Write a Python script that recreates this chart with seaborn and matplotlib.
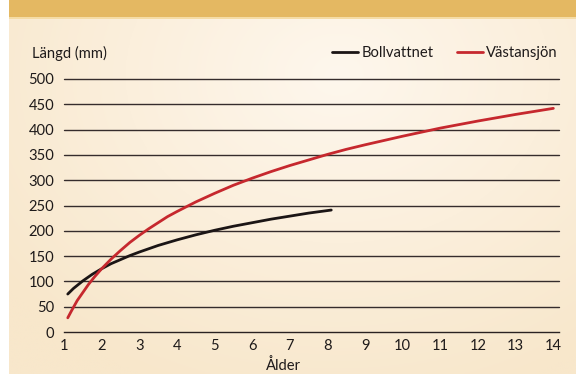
import numpy as np
import pandas as pd
import matplotlib
matplotlib.use("Agg")
import matplotlib.pyplot as plt
from matplotlib.patches import Rectangle
import seaborn as sns

# Growth curves: length (mm) by age for two lakes
age_boll = [1.1, 1.25, 1.5, 1.75, 2.0, 2.25, 2.5, 2.75, 3.0, 3.5, 4.0, 4.5,
            5.0, 5.5, 6.0, 6.5, 7.0, 7.5, 8.0, 8.1]
len_boll = [75, 86, 101, 114, 125, 135, 143, 151, 158, 171, 182, 192,
            201, 209, 216, 223, 229, 235, 240, 241]

age_vast = [1.1, 1.2, 1.35, 1.5, 1.65, 1.8, 2.0, 2.25, 2.5, 2.75, 3.0, 3.25,
            3.5, 3.75, 4.0, 4.5, 5.0, 5.5, 6.0, 6.5, 7.0, 7.5, 8.0, 8.5,
            9.0, 10.0, 11.0, 12.0, 13.0, 14.0]
len_vast = [28, 42, 62, 78, 94, 108, 125, 144, 161, 177, 191, 204,
            216, 228, 238, 257, 274, 290, 304, 317, 329, 340, 351, 361,
            370, 387, 403, 417, 430, 442]

series_names = ["Bollvattnet", "Västansjön"]
x_ticks = list(range(1, 15))
y_ticks = list(range(0, 501, 50))

df = pd.concat([
    pd.DataFrame({"Ålder": age_boll, "Längd": len_boll, "Sjö": series_names[0]}),
    pd.DataFrame({"Ålder": age_vast, "Längd": len_vast, "Sjö": series_names[1]}),
], ignore_index=True)

sns.set_theme(style="white")
plt.rcParams["font.family"] = ["Lato", "DejaVu Sans"]
FS = 10.6
TXT = "#1e1a1a"

W, H = 576, 374
fig = plt.figure(figsize=(W / 100, H / 100), dpi=100)
fig.patch.set_facecolor("white")

# Cream panel with a soft radial glow
bg = fig.add_axes([9 / W, 0, 1 - 9 / W, 1], zorder=-2)
gx, gy = np.meshgrid(np.linspace(0, 1, 300), np.linspace(0, 1, 200))
r = np.sqrt(((gx - 0.58) / 0.75) ** 2 + ((gy - 0.2) / 0.9) ** 2)
r = np.clip(r, 0, 1)
inner = np.array([0xFE, 0xF7, 0xED]) / 255
outer = np.array([0xF8, 0xE7, 0xCB]) / 255
img = inner[None, None, :] * (1 - r[..., None]) + outer[None, None, :] * r[..., None]
bg.imshow(img, aspect="auto", extent=[0, 1, 0, 1], origin="upper")
bg.set_axis_off()

# Header band
fig.patches.append(Rectangle((9 / W, 1 - 17 / H), 1 - 9 / W, 17 / H,
                             transform=fig.transFigure, facecolor="#E4B862",
                             edgecolor="none", zorder=-1))
fig.patches.append(Rectangle((9 / W, 1 - 19 / H), 1 - 9 / W, 2 / H,
                             transform=fig.transFigure, facecolor="#F5DCA6",
                             edgecolor="none", zorder=-1))

ax = fig.add_axes([64 / W, 1 - 332 / H, (559 - 64) / W, (332 - 79) / H])
ax.patch.set_alpha(0)

for yv in y_ticks[1:]:
    ax.axhline(yv, color="#352c2c", lw=1.0, zorder=1, clip_on=False)

sns.lineplot(data=df, x="Ålder", y="Längd", hue="Sjö", ax=ax,
             palette={series_names[0]: "#1b1515", series_names[1]: "#C6282E"},
             linewidth=2.0, zorder=3, sort=True)

ax.set_xlim(1, 14.15)
ax.set_ylim(0, 500)
ax.set_xticks(x_ticks)
ax.set_yticks(y_ticks)
ax.set_xlabel("")
ax.set_ylabel("")
for s in ["top", "right", "left"]:
    ax.spines[s].set_visible(False)
ax.spines["bottom"].set_color("#2a2222")
ax.spines["bottom"].set_linewidth(1.0)
ax.tick_params(axis="x", direction="out", length=3, width=0.9, color="#2a2222",
               labelsize=FS, pad=2, labelcolor=TXT)
ax.tick_params(axis="y", length=0, labelsize=FS, pad=7, labelcolor=TXT)

fig.text(32 / W, 1 - 53 / H, "Längd (mm)", fontsize=FS, color=TXT,
         ha="left", va="center")
fig.text(283 / W, 1 - 366 / H, "Ålder", fontsize=FS, color=TXT,
         ha="center", va="center")

leg = ax.legend(title=None, ncol=2, frameon=False, fontsize=FS,
                loc="center right", bbox_to_anchor=(558 / W, 1 - 53 / H),
                bbox_transform=fig.transFigure, handlelength=1.8,
                handletextpad=0.2, columnspacing=1.6, borderaxespad=0,
                borderpad=0)
for t in leg.get_texts():
    t.set_color(TXT)

fig.savefig("out.png", dpi=100)
